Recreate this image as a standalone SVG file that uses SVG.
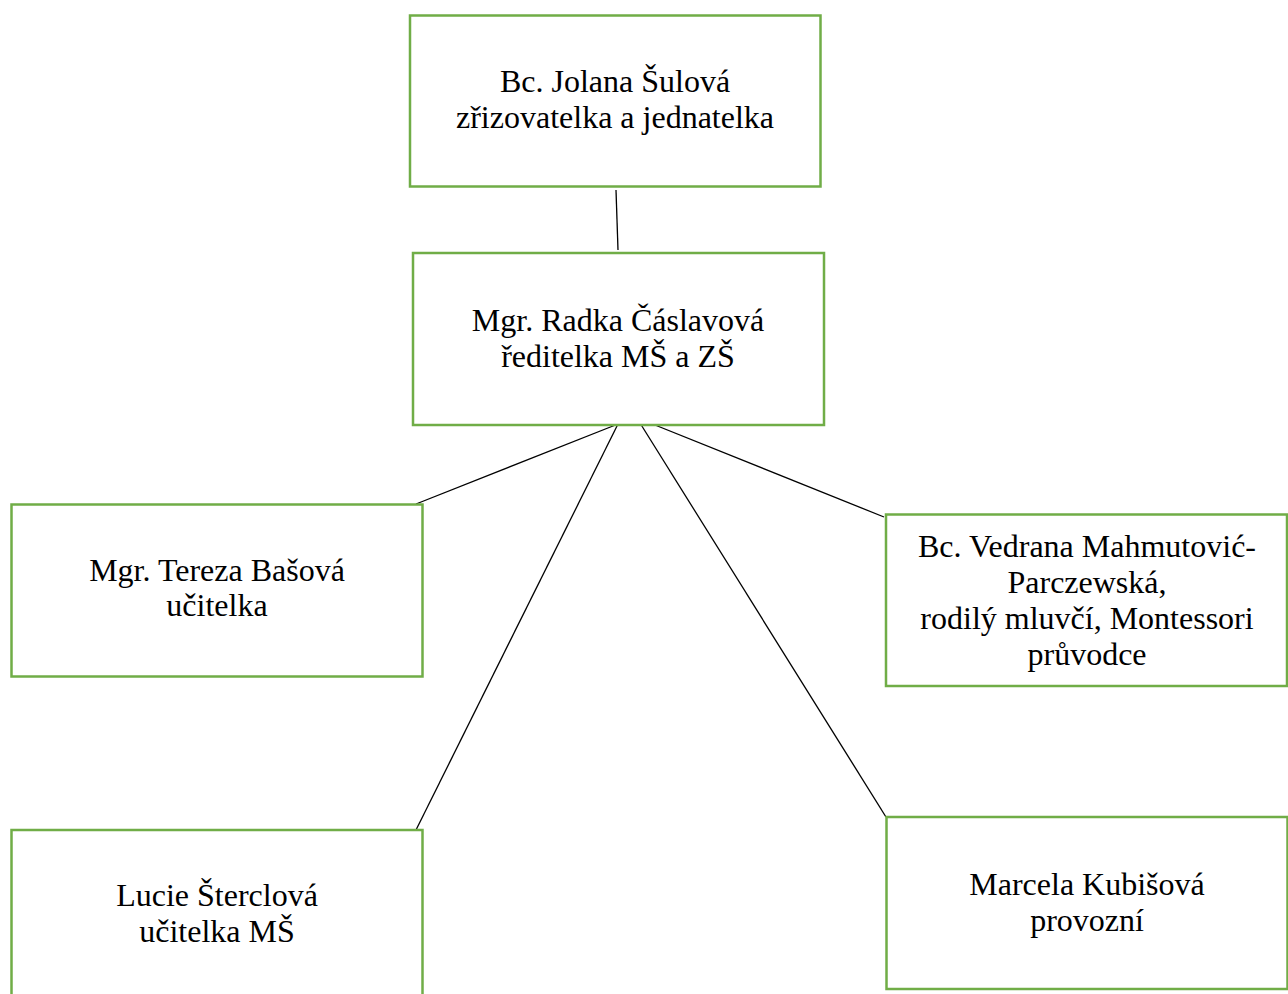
<svg xmlns="http://www.w3.org/2000/svg" width="1288" height="994" viewBox="0 0 1288 994">
  <style>
    .box { fill: #ffffff; stroke: #70AD47; stroke-width: 2.5; }
    .lbl { font-family: "Liberation Serif", "Times New Roman", serif; font-size: 32px; fill: #000000; text-anchor: middle; }
    .conn line { stroke: #000000; stroke-width: 1.3; }
  </style>
  <rect x="0" y="0" width="1288" height="994" fill="#ffffff"/>
  <g id="connectors" class="conn">
    <line x1="616" y1="190" x2="618" y2="250"/>
    <line x1="618" y1="424" x2="416" y2="504"/>
    <line x1="618" y1="424" x2="415" y2="832"/>
    <line x1="640" y1="423" x2="886" y2="817"/>
    <line x1="650" y1="423" x2="884" y2="517"/>
  </g>
  <g id="node-sulova">
    <rect class="box" x="410" y="15.5" width="410.5" height="171"/>
    <text class="lbl" x="615" y="92">Bc. Jolana Šulová</text>
    <text class="lbl" x="615" y="128">zřizovatelka a jednatelka</text>
  </g>
  <g id="node-caslavova">
    <rect class="box" x="413" y="253" width="411" height="172"/>
    <text class="lbl" x="618" y="331">Mgr. Radka Čáslavová</text>
    <text class="lbl" x="618" y="367">ředitelka MŠ a ZŠ</text>
  </g>
  <g id="node-basova">
    <rect class="box" x="11.5" y="504.5" width="411" height="172"/>
    <text class="lbl" x="217" y="581">Mgr. Tereza Bašová</text>
    <text class="lbl" x="217" y="616">učitelka</text>
  </g>
  <g id="node-mahmutovic">
    <rect class="box" x="886" y="514.5" width="401" height="171.5"/>
    <text class="lbl" x="1087" y="557">Bc. Vedrana Mahmutović-</text>
    <text class="lbl" x="1087" y="593">Parczewská,</text>
    <text class="lbl" x="1087" y="629">rodilý mluvčí, Montessori</text>
    <text class="lbl" x="1087" y="665">průvodce</text>
  </g>
  <g id="node-sterclova">
    <rect class="box" x="11.5" y="830" width="411" height="172"/>
    <text class="lbl" x="217" y="906">Lucie Šterclová</text>
    <text class="lbl" x="217" y="942">učitelka MŠ</text>
  </g>
  <g id="node-kubisova">
    <rect class="box" x="886.5" y="817" width="401" height="172"/>
    <text class="lbl" x="1087" y="895">Marcela Kubišová</text>
    <text class="lbl" x="1087" y="931">provozní</text>
  </g>
</svg>
